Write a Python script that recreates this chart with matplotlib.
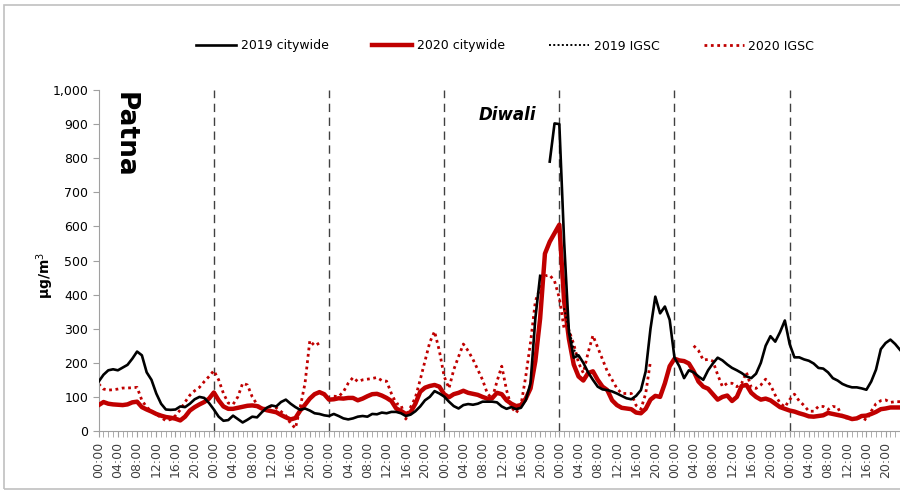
import numpy as np
import matplotlib.pyplot as plt
from matplotlib.patches import Rectangle
from matplotlib.ticker import FuncFormatter

nan = np.nan

# hourly values, 7 days x 24 hours
city_2019 = [145, 165, 178, 181, 178, 186, 194, 212, 233, 222, 172, 150, 110, 80, 63, 62, 63, 72, 70, 80, 93, 100, 97, 82,
             63, 42, 30, 32, 45, 35, 25, 33, 42, 40, 55, 68, 75, 72, 85, 92, 80, 70, 62, 66, 60, 52, 50, 46,
             44, 50, 44, 37, 34, 37, 42, 44, 42, 50, 49, 54, 52, 56, 56, 52, 44, 48, 58, 72, 90, 100, 117, 110,
             101, 86, 73, 66, 76, 79, 77, 80, 86, 86, 86, 84, 72, 65, 70, 64, 68, 90, 140, 330, 455, nan, 790, 902,
             900, 555, 290, 215, 222, 200, 172, 150, 130, 122, 120, 116, 110, 103, 96, 93, 103, 120, 175, 300, 394, 345, 365, 326,
             215, 190, 155, 178, 172, 160, 150, 178, 198, 215, 207, 195, 185, 178, 170, 160, 155, 168, 200, 250, 278, 262, 290, 324,
             255, 216, 216, 210, 206, 198, 185, 183, 172, 155, 148, 138, 132, 128, 128, 125, 121, 145, 180, 240, 258, 268, 255, 238]

city_2020 = [76, 85, 80, 78, 77, 76, 78, 84, 86, 70, 63, 57, 50, 45, 41, 39, 36, 31, 42, 60, 70, 78, 85, 95,
             113, 90, 72, 65, 65, 68, 71, 74, 75, 73, 66, 61, 58, 55, 47, 40, 34, 38, 60, 77, 95, 108, 114, 108,
             92, 93, 96, 95, 97, 97, 90, 95, 102, 108, 109, 104, 97, 88, 66, 59, 50, 55, 80, 115, 127, 132, 135, 130,
             108, 99, 108, 112, 118, 112, 109, 106, 100, 95, 96, 112, 108, 90, 80, 73, 76, 95, 125, 205, 330, 520, 555, 580,
             605, 380, 270, 195, 160, 148, 170, 175, 150, 130, 120, 90, 76, 68, 66, 64, 54, 52, 65, 92, 103, 100, 140, 190,
             212, 207, 205, 198, 175, 145, 130, 124, 108, 92, 100, 104, 88, 100, 132, 135, 112, 100, 92, 95, 90, 80, 70, 65,
             60, 57, 52, 48, 43, 42, 44, 46, 53, 50, 47, 44, 40, 35, 37, 44, 45, 50, 56, 64, 66, 69, 69, 69]

igsc_2019 = [nan] * 97 + [360, 300, 240, 215] + [nan] * 67

igsc_2020 = [138, 123, 120, 121, 123, 126, 126, 127, 128, 90, 70, 58, 48, 40, 30, 34, 45, 62, 85, 105, 118, 128, 145, 160,
             177, 150, 110, 82, 78, 100, 140, 135, 100, 78, 65, 68, 72, 68, 57, 45, 22, 8, 70, 140, 265, 250, 258, nan,
             nan, 102, 101, 115, 140, 157, 145, 150, 152, 154, 157, 148, 146, 110, 81, 76, 35, 70, 98, 150, 205, 260, 292, 235,
             160, 125, 180, 218, 255, 235, 210, 180, 150, 110, 95, 145, 190, 120, 70, 53, 75, 160, 260, 380, 420, 455, 457, 440,
             390, 300, 295, 255, 200, 170, 230, 280, 245, 210, 175, 150, 125, 110, 110, 110, 75, 64, 110, 205, nan, nan, nan, nan,
             nan, nan, nan, nan, 250, 236, 208, 210, 205, 165, 130, 140, 140, 130, 140, 172, 128, 125, 135, 152, 135, 105, 82, 70,
             92, 108, 88, 75, 58, 58, 72, 72, 63, 72, 70, 40, 38, 37, 37, 40, 32, 58, 80, 89, 91, 84, 86, 86]

hours = np.arange(len(city_2019))
tick_labels = ['00:00', '04:00', '08:00', '12:00', '16:00', '20:00'] * 7

plt.rcParams['font.family'] = 'DejaVu Sans'

fig = plt.figure(figsize=(9, 4.91), dpi=100)
fig.patches.append(Rectangle((4 / 900, 2 / 491), 1.0, 1 - 7 / 491, transform=fig.transFigure,
                             fill=False, edgecolor='#c0c0c0', linewidth=1.2))

ax = fig.add_axes([98.7 / 900, 1 - 431 / 491, 1 - 98.7 / 900, (431 - 90) / 491])

for d in range(24, 168, 24):
    ax.axvline(d, color='#404040', linestyle=(0, (6, 4)), linewidth=1.0, zorder=1)

ax.plot(hours, city_2019, color='black', lw=1.9, label='2019 citywide', zorder=4)
ax.plot(hours, city_2020, color='#c00000', lw=3.2, label='2020 citywide', zorder=3)
ax.plot(hours, igsc_2019, color='black', lw=1.4, linestyle=(0, (1, 1.2)), label='2019 IGSC', zorder=5)
ax.plot(hours, igsc_2020, color='#c00000', lw=2.0, linestyle=(0, (1, 1.3)), label='2020 IGSC', zorder=2)

ax.set_xlim(0, 167)
ax.set_ylim(0, 1000)
ax.set_yticks(range(0, 1001, 100))
ax.yaxis.set_major_formatter(FuncFormatter(lambda v, p: f'{int(v):,}'))
ax.set_xticks(range(0, 168, 4))
ax.set_xticklabels(tick_labels, rotation=90, fontsize=9, color='#404040')
ax.set_xticks(range(0, 168), minor=True)
ax.tick_params(axis='y', labelsize=9, length=4, color='#a0a0a0')
ax.tick_params(axis='x', which='both', length=4, color='#a0a0a0')

for s in ['top', 'right']:
    ax.spines[s].set_visible(False)
for s in ['left', 'bottom']:
    ax.spines[s].set_color('#a0a0a0')

fig.text(45 / 900, 1 - 275 / 491, 'µg/m$^3$', rotation=90, fontsize=10, fontweight='bold',
         ha='center', va='center')
ax.text(125 / 900, 1 - 135 / 491, 'Patna', transform=fig.transFigure, rotation=-90,
        fontsize=19, fontweight='bold', ha='center', va='center')
ax.text(507 / 900, 1 - 115 / 491, 'Diwali', transform=fig.transFigure, fontsize=12,
        fontweight='bold', fontstyle='italic', ha='center', va='center')

fig.legend(loc='center', bbox_to_anchor=(505 / 900, 1 - 46 / 491), ncol=4, frameon=False,
           fontsize=9, handlelength=3.2, columnspacing=3.5, handletextpad=0.4)

fig.savefig('out.png', dpi=100)
